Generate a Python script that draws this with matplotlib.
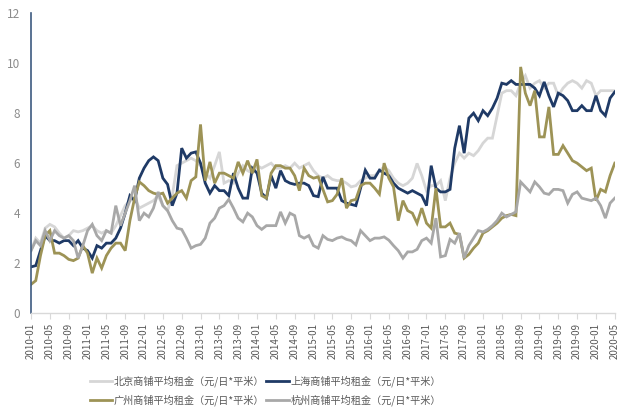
import matplotlib
matplotlib.use("Agg")
import matplotlib.pyplot as plt
import pandas as pd

plt.rcParams['font.family'] = ['Noto Sans CJK SC', 'DejaVu Sans']

# Monthly observations, 2010-01 .. 2020-05
months = pd.date_range("2010-01-01", periods=125, freq="MS").strftime("%Y-%m").tolist()

beijing = [
    2.5, 3.0, 2.8, 3.4, 3.55, 3.45, 3.2, 3.0, 3.1, 3.3,
    3.25, 3.3, 3.4, 3.5, 3.3, 3.2, 3.3, 3.2, 3.5, 3.9,
    4.3, 4.5, 4.6, 4.2, 4.3, 4.4, 4.5, 4.7, 4.3, 4.1,
    4.7, 5.9, 6.0, 6.1, 6.2, 6.1, 5.9, 5.6, 5.4, 5.9,
    6.45, 5.2, 5.3, 5.2, 5.6, 5.9, 5.7, 5.6, 5.9, 5.8,
    5.9, 6.0, 5.8, 5.8, 5.9, 5.8, 6.0, 5.8, 5.9, 6.0,
    5.7, 5.5, 5.4, 5.5, 5.35, 5.3, 5.3, 5.2, 5.05, 5.1,
    5.3, 5.4, 5.5, 5.5, 5.7, 5.85, 5.7, 5.4, 5.2, 5.1,
    5.2, 5.4, 5.99, 5.5, 4.9, 5.1, 5.1, 5.3, 4.5, 5.4,
    6.0, 6.4, 6.2, 6.4, 6.3, 6.5, 6.8, 7.0, 7.0, 7.9,
    8.8, 8.9, 8.9, 8.7, 9.2, 9.5, 9.0, 9.2, 9.3, 9.0,
    9.2, 9.2, 8.7, 9.0, 9.2, 9.3, 9.2, 9.0, 9.3, 9.2,
    8.7, 8.9, 8.9, 8.9, 8.9,
]

shanghai = [
    1.85, 1.9, 2.5, 3.1, 2.9, 2.9, 2.8, 2.9, 2.9, 2.7,
    2.9, 2.6, 2.5, 2.2, 2.7, 2.6, 2.8, 2.8, 3.0, 3.4,
    4.0, 4.7, 4.5, 5.4, 5.8, 6.1, 6.25, 6.1, 5.4, 5.15,
    4.3, 4.8, 6.6, 6.2, 6.4, 6.45, 6.0, 5.2, 4.8, 5.1,
    4.9, 4.9, 4.7, 5.6, 5.0, 4.6, 4.6, 5.8, 5.6, 4.8,
    4.6, 5.5, 5.0, 5.7, 5.3, 5.2, 5.15, 5.2, 5.2, 5.1,
    4.7, 4.66, 5.45, 5.0, 5.0, 5.0, 4.5, 4.4, 4.35, 4.3,
    5.0, 5.72, 5.4, 5.4, 5.72, 5.6, 5.5, 5.2, 5.0, 4.9,
    4.8, 4.9, 4.8, 4.7, 4.3, 5.9, 5.0, 4.85, 4.85, 4.95,
    6.6, 7.5, 6.4, 7.8, 8.0, 7.7, 8.1, 7.9, 8.2, 8.6,
    9.2, 9.15, 9.3, 9.15, 9.15, 9.15, 9.15, 9.0, 8.7, 9.25,
    8.7, 8.25, 8.8, 8.7, 8.5, 8.1, 8.1, 8.3, 8.1, 8.1,
    8.7, 8.1, 7.9, 8.6, 8.85,
]

guangzhou = [
    1.15, 1.3, 2.3, 3.1, 3.3, 2.4, 2.4, 2.3, 2.15, 2.1,
    2.2, 2.7, 2.4, 1.6, 2.2, 1.8, 2.3, 2.6, 2.8, 2.8,
    2.5, 3.7, 4.6, 5.25, 5.1, 4.9, 4.8, 4.75, 4.8, 4.4,
    4.6, 4.8, 4.9, 4.6, 5.3, 5.45, 7.55, 5.3, 6.05, 5.2,
    5.6, 5.6, 5.5, 5.4, 6.05, 5.6, 6.1, 5.6, 6.15, 4.7,
    4.6, 5.6, 5.9, 5.9, 5.8, 5.8, 5.5, 4.9, 5.8, 5.5,
    5.4, 5.45, 4.95, 4.45, 4.5, 4.75, 5.4, 4.2, 4.5, 4.55,
    5.1, 5.2, 5.2, 5.0, 4.76, 6.0, 5.4, 5.05, 3.7, 4.5,
    4.1, 4.0, 3.6, 4.2, 3.6, 3.4, 5.0, 3.45, 3.45, 3.6,
    3.2, 3.15, 2.2, 2.35, 2.6, 2.8, 3.2, 3.3, 3.45, 3.6,
    3.8, 3.9, 3.95, 3.9, 9.85, 8.8, 8.3, 8.9, 7.05, 7.05,
    8.25, 6.35, 6.35, 6.7, 6.4, 6.1, 6.0, 5.85, 5.7, 5.8,
    4.5, 4.95, 4.85, 5.5, 6.0,
]

hangzhou = [
    2.5, 2.9, 2.7, 3.3, 2.9, 3.3, 3.1, 3.0, 3.1, 2.9,
    2.2, 2.7, 3.3, 3.55, 3.1, 2.9, 3.3, 3.2, 4.3, 3.5,
    4.0, 4.5, 5.1, 3.7, 4.0, 3.85, 4.2, 4.85, 4.3, 4.1,
    3.7, 3.4, 3.35, 3.0, 2.6, 2.7, 2.75, 3.0, 3.6, 3.8,
    4.2, 4.3, 4.55, 4.2, 3.8, 3.65, 4.0, 3.85, 3.5, 3.35,
    3.5, 3.5, 3.5, 4.05, 3.6, 4.0, 3.9, 3.1, 3.0, 3.1,
    2.7, 2.6, 3.1, 2.95, 2.9, 3.0, 3.05, 2.95, 2.9, 2.73,
    3.3, 3.1, 2.9, 3.0, 3.0, 3.05, 2.92, 2.7, 2.5, 2.2,
    2.45, 2.45, 2.55, 2.9, 3.0, 2.8, 3.8, 2.25, 2.3, 2.95,
    2.8, 3.2, 2.2, 2.7, 3.0, 3.3, 3.25, 3.35, 3.5, 3.7,
    4.0, 3.85, 3.95, 4.05, 5.25, 5.05, 4.85, 5.25, 5.05, 4.8,
    4.75, 4.95, 4.95, 4.9, 4.4, 4.75, 4.85, 4.6, 4.55, 4.5,
    4.6, 4.3, 3.8, 4.4, 4.6,
]

series_names = [
    "北京商铺平均租金（元/日*平米）",
    "上海商铺平均租金（元/日*平米）",
    "广州商铺平均租金（元/日*平米）",
    "杭州商铺平均租金（元/日*平米）",
]
series_values = [beijing, shanghai, guangzhou, hangzhou]
series_colors = ["#d6d6d6", "#1f3a66", "#9d9356", "#a8a8a8"]

y_ticks = [0, 2, 4, 6, 8, 10, 12]
label_step = 4

fig = plt.figure(figsize=(6.21, 4.12), dpi=100)
ax = fig.add_axes([0.050, 0.240, 0.940, 0.728])

x = list(range(len(months)))
lines = []
for name, vals, col in zip(series_names, series_values, series_colors):
    ln, = ax.plot(x, vals, color=col, linewidth=2.0, label=name,
                  solid_joinstyle="miter")
    lines.append(ln)

ax.set_xlim(0, len(months) - 1)
ax.set_ylim(0, 12)
ax.set_yticks(y_ticks)
ax.set_yticklabels([str(v) for v in y_ticks])

tick_pos = x[::label_step]
ax.set_xticks(tick_pos)
ax.set_xticklabels([months[i] for i in tick_pos], rotation=90)

for s in ("top", "right"):
    ax.spines[s].set_visible(False)
ax.spines["left"].set_color("#3d5a80")
ax.spines["left"].set_linewidth(1.2)
ax.spines["bottom"].set_color("#d9d9d9")
ax.spines["bottom"].set_linewidth(1.0)

ax.tick_params(axis="y", length=0, pad=8, labelsize=8.5, labelcolor="#8c8c8c")
ax.tick_params(axis="x", length=4, width=0.8, color="#d9d9d9",
               labelsize=7, labelcolor="#595959", pad=3)

# two rows: Beijing / Shanghai on top, Guangzhou / Hangzhou below
order = [0, 2, 1, 3]
leg = fig.legend([lines[i] for i in order], [series_names[i] for i in order],
                 ncol=2, loc="center", bbox_to_anchor=(0.427, 0.052),
                 frameon=False, fontsize=7.3, handlelength=2.2,
                 handletextpad=0.15, columnspacing=0.25, labelspacing=0.75)
for t in leg.get_texts():
    t.set_color("#595959")

fig.savefig("out.png", dpi=100)
